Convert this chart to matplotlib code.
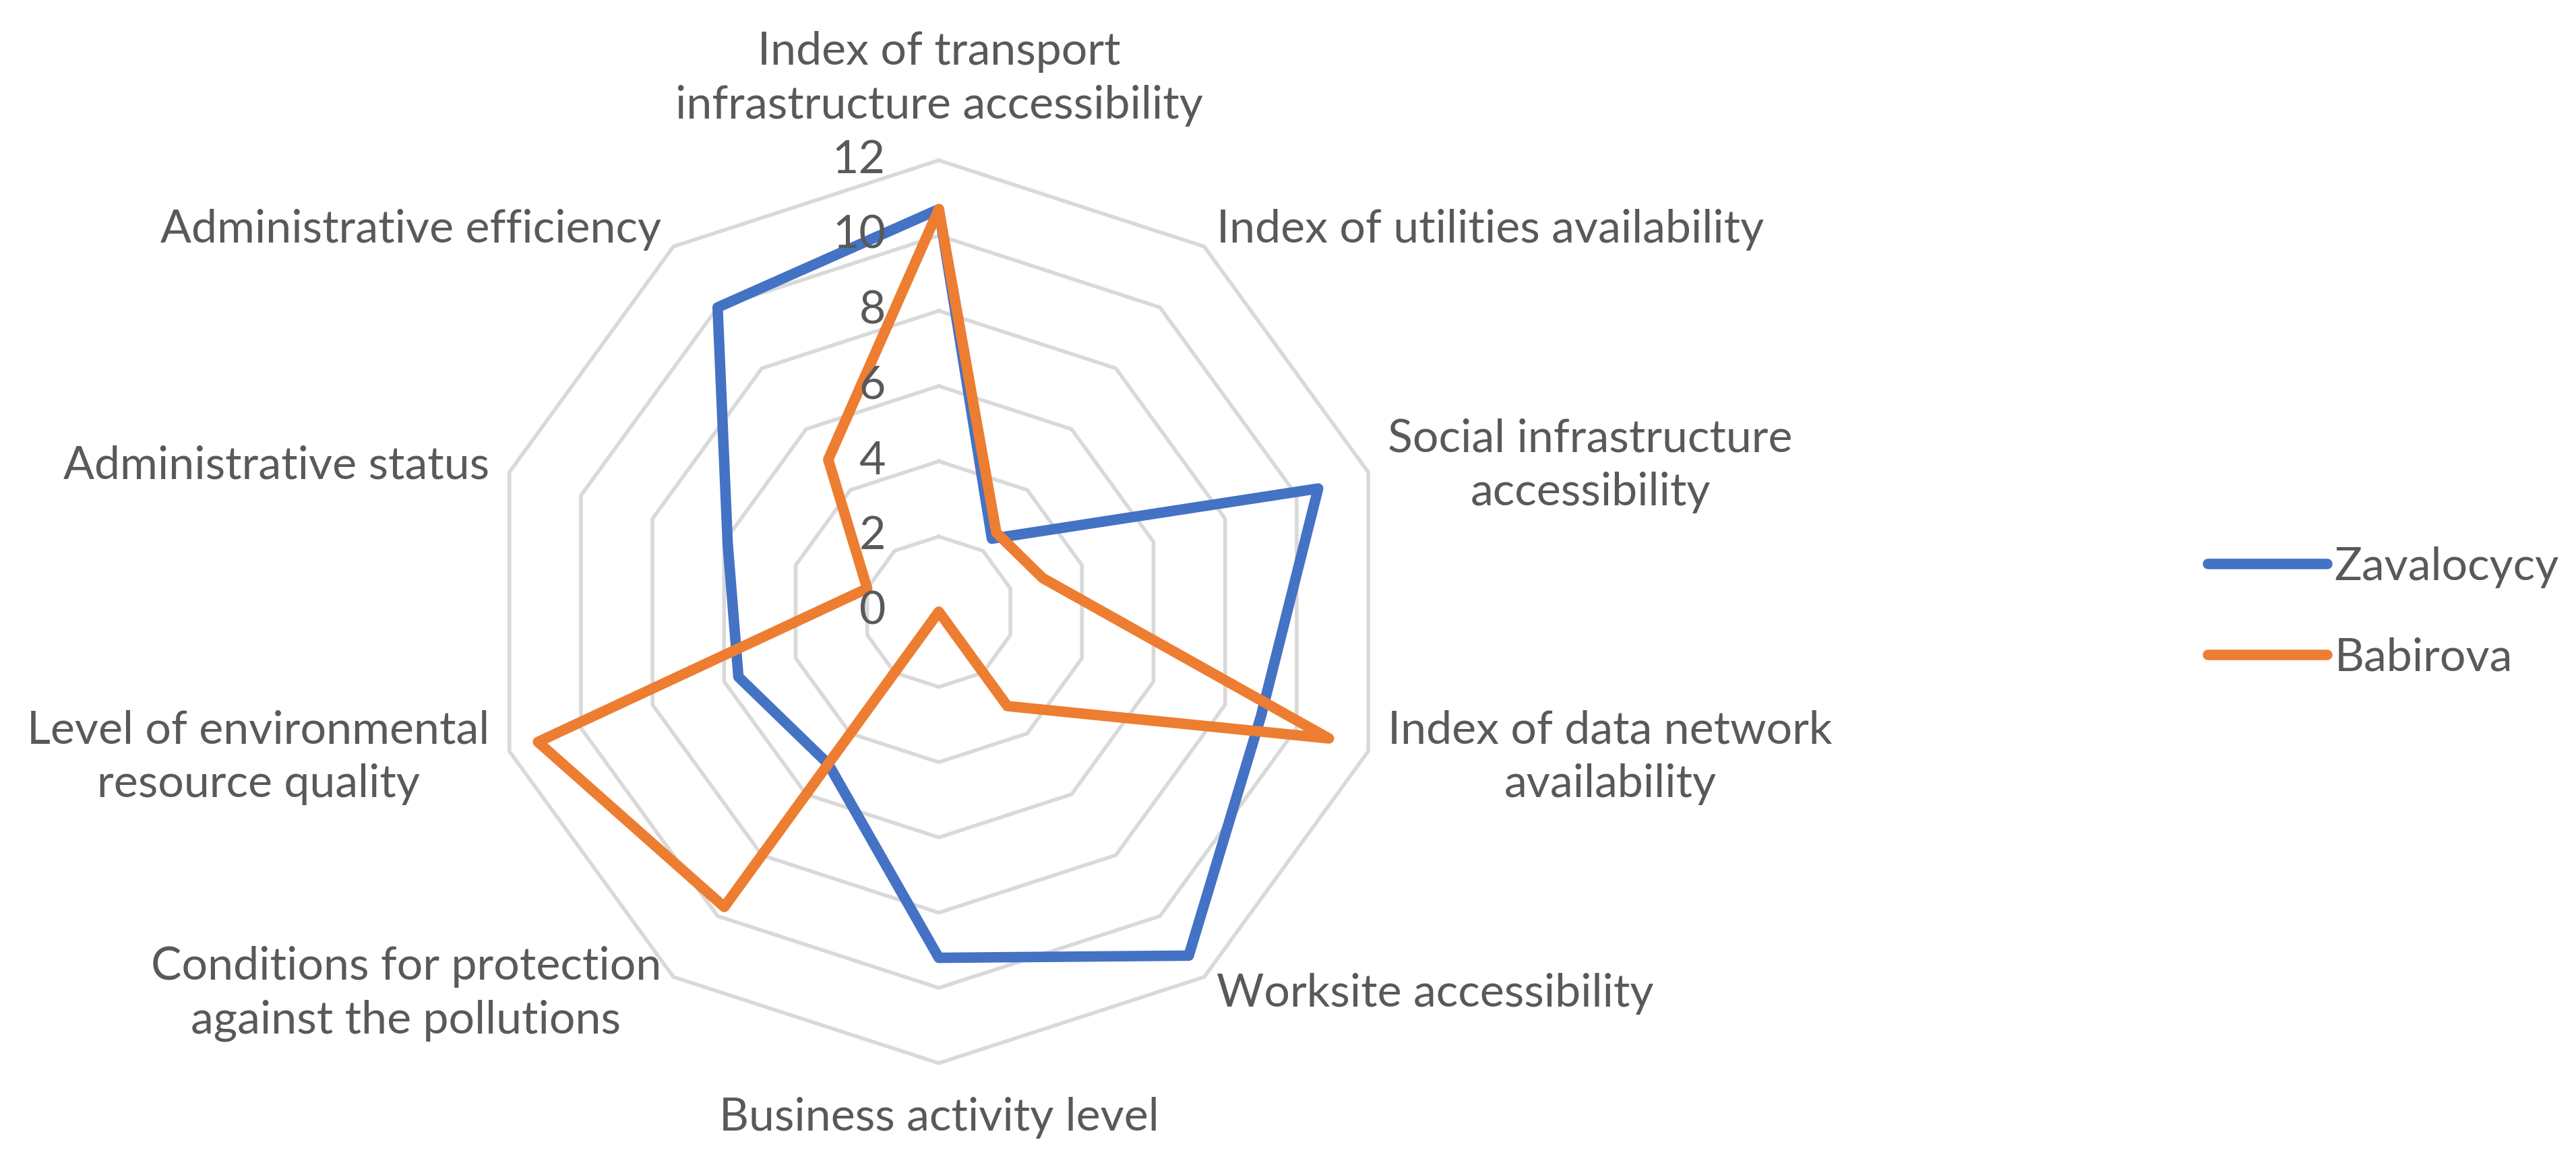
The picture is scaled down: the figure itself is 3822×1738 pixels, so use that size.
import numpy as np
import matplotlib.pyplot as plt
from matplotlib.transforms import offset_copy

categories = [
    'Index of transport\ninfrastructure accessibility',
    'Index of utilities availability',
    'Social infrastructure\naccessibility',
    'Index of data network\navailability',
    'Worksite accessibility',
    'Business activity level',
    'Conditions for protection\nagainst the pollutions',
    'Level of environmental\nresource quality',
    'Administrative status',
    'Administrative efficiency',
]
zavalocycy = [10.7, 2.4, 10.6, 9.0, 11.3, 9.2, 5.0, 5.6, 5.9, 10.0]
babirova = [10.7, 2.6, 2.9, 10.9, 3.1, 0.0, 9.7, 11.2, 2.0, 5.0]
r_ticks = [0, 2, 4, 6, 8, 10, 12]

plt.rcParams['font.family'] = ['Lato', 'DejaVu Sans']
TEXT = '#595959'
GRID = '#D9D9D9'
FS = 24.5

fig = plt.figure(figsize=(19.115, 8.69), dpi=200)
ax = fig.add_axes([0.1891, 0.0921, 0.3505, 0.771], polar=True)
ax.set_theta_zero_location('N')
ax.set_theta_direction(-1)

n = len(categories)
theta = np.linspace(0, 2 * np.pi, n, endpoint=False)
closed = np.append(theta, theta[0])

# polygon rings instead of circular grid
for r in r_ticks[1:]:
    ax.plot(closed, [r] * (n + 1), color=GRID, lw=2.0, zorder=1, clip_on=False)

series = [(zavalocycy, '#4472C4', 'Zavalocycy'), (babirova, '#ED7D31', 'Babirova')]
for vals, col, name in series:
    ax.plot(closed, vals + vals[:1], color=col, lw=5.6, label=name,
            solid_joinstyle='round', solid_capstyle='round', zorder=3, clip_on=False)

ax.set_ylim(0, 12)
ax.set_xticks([])
ax.set_yticks([])
ax.grid(False)
ax.spines['polar'].set_visible(False)
ax.patch.set_alpha(0)

# value labels sit left of the vertical axis
tick_tr = offset_copy(ax.transData, fig=fig, x=-0.395, y=0, units='inches')
for r in r_ticks:
    ax.text(0, r, str(r), transform=tick_tr, ha='right', va='center',
            fontsize=FS, color=TEXT)

for t, lab in zip(theta, categories):
    deg = np.degrees(t)
    if np.isclose(deg, 0):
        ha, va, rr = 'center', 'bottom', 12.9
    elif np.isclose(deg, 180):
        ha, va, rr = 'center', 'top', 12.9
    elif deg < 180:
        ha, va, rr = 'left', 'center', 12.55
    else:
        ha, va, rr = 'right', 'center', 12.55
    ax.text(t, rr, lab, ha=ha, va=va, multialignment='center',
            fontsize=FS, color=TEXT, linespacing=1.35)

fig.legend(loc='center left', bbox_to_anchor=(0.857, 0.477), frameon=False,
           fontsize=FS, handlelength=2.6, handletextpad=0.15, labelspacing=1.07,
           borderpad=0, borderaxespad=0, labelcolor=TEXT)

fig.savefig('out.png', dpi=200, facecolor='white')
